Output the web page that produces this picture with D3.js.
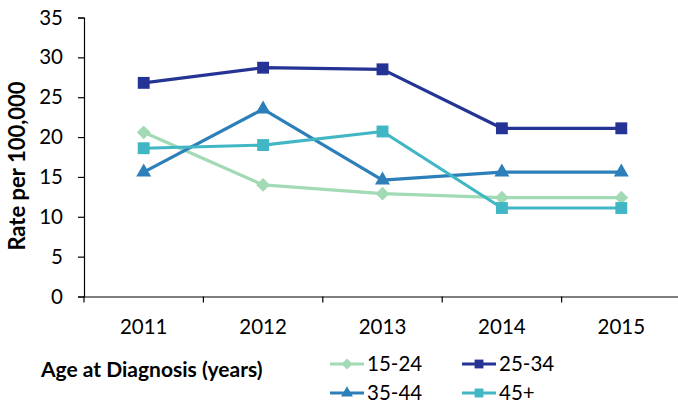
<!DOCTYPE html>
<html>
<head>
<meta charset="utf-8">
<script src="https://cdn.jsdelivr.net/npm/d3@7"></script>
<style>
  html, body { margin: 0; padding: 0; background: #fff; }
  svg { display: block; font-family: Lato, "Open Sans", sans-serif; }
</style>
</head>
<body>
<svg id="chart" width="678" height="404"></svg>
<script>
// Years on the x axis
const years = ["2011", "2012", "2013", "2014", "2015"];

// Rate per 100,000 by age group
const age15to24 = [20.6, 14.0, 12.9, 12.4, 12.4];
const age25to34 = [26.8, 28.7, 28.5, 21.1, 21.1];
const age35to44 = [15.6, 23.5, 14.6, 15.6, 15.6];
const age45plus = [18.6, 19.0, 20.7, 11.1, 11.1];

const seriesNames = ["15-24", "25-34", "35-44", "45+"];
const yTicks = [0, 5, 10, 15, 20, 25, 30, 35];

const series = [
  { name: seriesNames[0], values: age15to24, color: "#a1dab4", symbol: d3.symbolDiamond2, size: 120, legendSize: 80 },
  { name: seriesNames[1], values: age25to34, color: "#253494", symbol: d3.symbolSquare2, size: 180, legendSize: 100 },
  { name: seriesNames[2], values: age35to44, color: "#2c7fb8", symbol: d3.symbolTriangle2, size: 160, legendSize: 100 },
  { name: seriesNames[3], values: age45plus, color: "#41b6c4", symbol: d3.symbolSquare2, size: 180, legendSize: 100 }
];

const svg = d3.select("#chart");
const font = "Lato, sans-serif";

const x = d3.scaleBand().domain(years).range([84, 681]);
const y = d3.scaleLinear().domain([0, 35]).range([296.5, 17.5]);

// Y axis
const yAxis = svg.append("g")
  .attr("transform", "translate(84,0)")
  .call(d3.axisLeft(y).tickValues(yTicks).tickSize(6).tickPadding(15));
yAxis.select(".domain").attr("stroke", "#000").attr("stroke-width", 1.2);
yAxis.selectAll(".tick line").attr("stroke", "#000").attr("stroke-width", 1.2);
yAxis.selectAll(".tick text")
  .attr("font-size", 20.5).attr("fill", "#000")
  .attr("font-family", font);

// X axis with ticks between categories
const xAxis = svg.append("g")
  .attr("transform", "translate(0,296.5)")
  .call(d3.axisBottom(x).tickSize(0).tickSizeOuter(0).tickPadding(23));
xAxis.select(".domain").attr("stroke", "#000").attr("stroke-width", 1.2);
xAxis.selectAll(".tick text")
  .attr("font-size", 20.5).attr("fill", "#000")
  .attr("font-family", font);
xAxis.selectAll(".sep")
  .data(years)
  .enter().append("line")
  .attr("class", "sep")
  .attr("x1", d => x(d)).attr("x2", d => x(d))
  .attr("y1", 0).attr("y2", 6)
  .attr("stroke", "#000").attr("stroke-width", 1.2);

// Y axis title
svg.append("text")
  .attr("transform", "translate(25,166) rotate(-90)")
  .attr("text-anchor", "middle")
  .attr("font-size", 22)
  .attr("font-weight", "bold")
  .attr("fill", "#000")
  .text("Rate per 100,000");

// Lines and markers
const cx = i => x(years[i]) + x.bandwidth() / 2;
const line = d3.line().x((d, i) => cx(i)).y(d => y(d));

series.forEach(s => {
  svg.append("path")
    .datum(s.values)
    .attr("d", line)
    .attr("fill", "none")
    .attr("stroke", s.color)
    .attr("stroke-width", 3.2)
    .attr("stroke-linejoin", "round");
});
series.forEach(s => {
  svg.append("g").selectAll("path")
    .data(s.values)
    .enter().append("path")
    .attr("d", d3.symbol().type(s.symbol).size(s.size))
    .attr("transform", (d, i) => `translate(${cx(i)},${y(d)})`)
    .attr("fill", s.color);
});

// Legend
svg.append("text")
  .attr("x", 41).attr("y", 377)
  .attr("font-size", 21)
  .attr("font-weight", "bold")
  .attr("fill", "#000")
  .text("Age at Diagnosis (years)");

const legendPos = [
  { x: 330, y: 364 }, { x: 462, y: 364 },
  { x: 330, y: 393 }, { x: 462, y: 393 }
];
series.forEach((s, i) => {
  const p = legendPos[i];
  const g = svg.append("g").attr("transform", `translate(${p.x},${p.y})`);
  g.append("line")
    .attr("x1", 0).attr("x2", 34)
    .attr("stroke", s.color).attr("stroke-width", 3.2);
  g.append("path")
    .attr("d", d3.symbol().type(s.symbol).size(s.legendSize))
    .attr("transform", "translate(17,0)")
    .attr("fill", s.color);
  g.append("text")
    .attr("x", 37).attr("y", 0)
    .attr("dy", "0.35em")
    .attr("font-size", 20.5)
    .attr("fill", "#000")
    .text(s.name);
});
</script>
</body>
</html>
